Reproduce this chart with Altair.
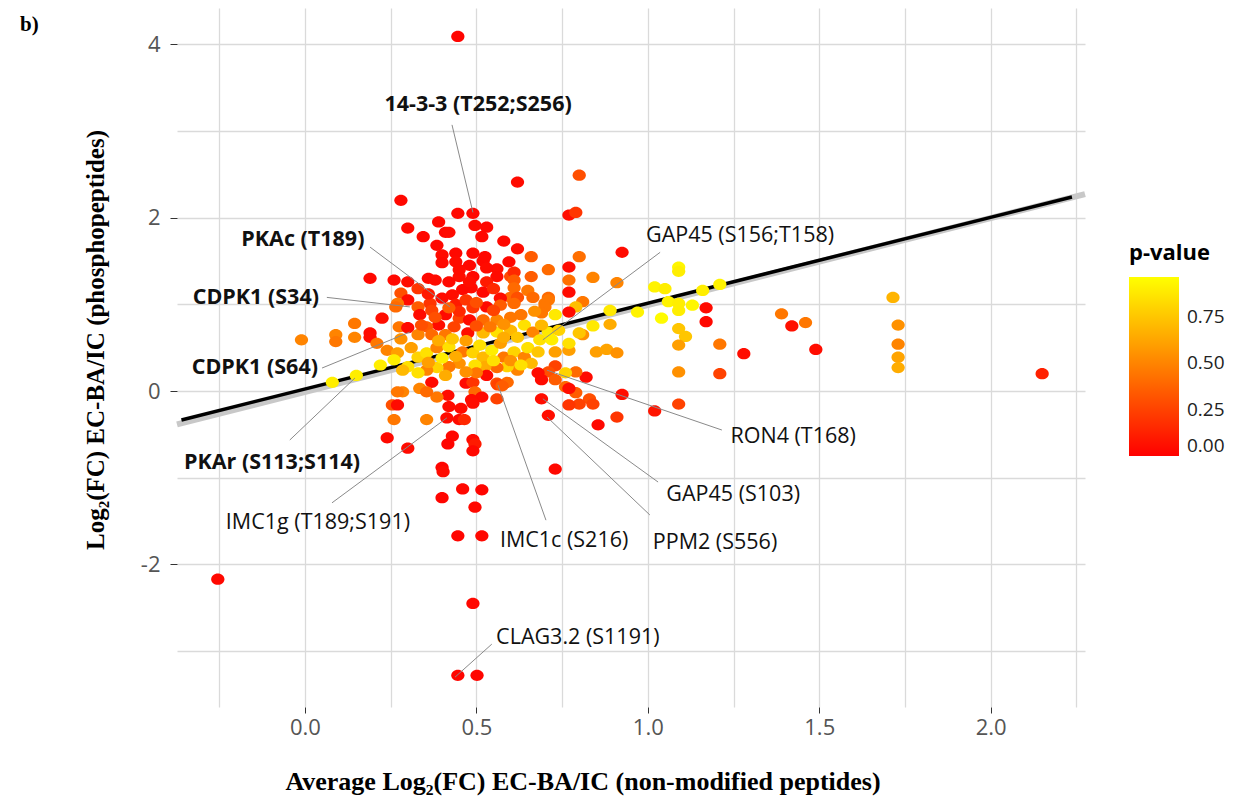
import altair as alt
import pandas as pd

# ---------------- data ----------------
pt_x = [0.446, -0.254, 0.446, 0.502, 0.49, 0.446, 0.516, 0.40, 0.46, 0.516, 0.496, 0.40, 0.403, 0.73,
        0.43, 0.417, 0.49, 0.496, 0.49, 0.24, 0.30, 0.855,
        1.17, 1.17, 1.21, 1.21, 1.28, 1.39, 1.42, 1.46, 1.49, 1.715, 1.73, 1.73, 1.73, 1.73, 2.15, 1.21, 1.16,
        0.925, 0.77, 0.79, 0.80, 0.77, 0.71, 0.66, 0.66, 0.60, 0.62, 0.58, 0.52, 0.56, 0.77, 0.77, 0.84, 0.91,
        0.71, 0.71, 0.81, 0.79, 0.77, 0.89, 0.89, 0.84, 0.81, 0.77, 0.85, 0.88, 0.91, 0.70, 0.65, 0.60, 0.71,
        0.73, 0.97, 1.02, 1.05, 1.09, 1.09, 1.06, 1.09, 1.13, 1.09, 1.04, 1.09, 1.11, 1.09, 1.09, 1.09, 1.02,
        0.925, 0.91, 0.83, 0.84, 0.80, 0.77, 0.79, 0.76, 0.77, 0.82, 0.79, 0.76, 0.73, 0.71, 0.68, 0.73, 0.69,
        0.69, 0.71, 0.56, 0.59, 0.56,
        0.28, 0.446, 0.49, 0.39, 0.30, 0.496, 0.53, 0.345, 0.41, 0.42, 0.516, 0.385, 0.44, 0.40, 0.49, 0.525,
        0.40, 0.44, 0.48, 0.53, 0.595, 0.61, 0.56, 0.49, 0.45, 0.42, 0.36, 0.38, 0.19, 0.26, 0.30, 0.33, 0.28,
        0.61, 0.61, 0.665, 0.62, 0.57, 0.52, 0.485, 0.46, 0.43, 0.40, 0.365, 0.33, 0.30, 0.27, 0.265, 0.225,
        0.19, 0.19, 0.145, 0.145, 0.09, 0.09, -0.01, 0.275, 0.30, 0.335, 0.37, 0.41, 0.45, 0.49, 0.53, 0.57,
        0.61, 0.70, 0.69, 0.60, 0.56, 0.52, 0.48, 0.435, 0.39, 0.355, 0.33, 0.37, 0.41, 0.475, 0.52, 0.56,
        0.60, 0.64, 0.665, 0.685, 0.72, 0.77, 0.80, 0.73, 0.24, 0.27, 0.30, 0.33, 0.355, 0.385, 0.42, 0.46,
        0.49, 0.52, 0.545, 0.58, 0.61, 0.64, 0.66, 0.62, 0.59, 0.56, 0.525, 0.496, 0.45, 0.42, 0.385, 0.355,
        0.33, 0.285, 0.22, 0.15, 0.08, 0.285, 0.335, 0.37, 0.417, 0.385, 0.47, 0.49, 0.496, 0.516, 0.563,
        0.575, 0.53, 0.50, 0.486, 0.455, 0.49, 0.42, 0.355, 0.27, 0.255, 0.27, 0.26, 0.355, 0.414, 0.45, 0.465,
        0.80, 0.62,
        0.44, 0.47, 0.50, 0.55, 0.45, 0.42, 0.38, 0.50, 0.54, 0.58, 0.62, 0.47, 0.43, 0.39, 0.51, 0.57, 0.65,
        0.68, 0.36, 0.40, 0.44, 0.55, 0.60, 0.63, 0.47, 0.41, 0.26, 0.31, 0.53, 0.48, 0.55, 0.45, 0.36, 0.58,
        0.69, 0.74, 0.67, 0.63, 0.34, 0.28, 0.21]
pt_y = [4.09, -2.17, -3.28, -3.28, -2.45, -1.67, -1.67, -1.23, -1.13, -1.14, -1.34, -0.88, -0.93, -0.90,
        -0.52, -0.61, -0.56, -0.61, -0.69, -0.54, -0.66, -0.39,
        0.96, 0.80, 0.54, 0.20, 0.43, 0.89, 0.75, 0.79, 0.48, 1.08, 0.76, 0.54, 0.39, 0.27, 0.20, 1.23, 1.16,
        1.60, 2.03, 2.06, 1.55, 1.43, 1.40, 1.55, 1.32, 1.32, 1.64, 1.73, 1.50, 1.41, 1.28, 1.14, 1.31, 1.25,
        1.08, 1.05, 1.03, 0.97, 0.91, 0.93, 0.77, 0.75, 0.65, 0.47, 0.45, 0.48, 0.44, 1.01, 1.16, 1.08, 0.68,
        0.88, 0.91, 1.20, 1.18, 1.43, 1.38, 1.03, 1.01, 0.99, 0.93, 0.84, 0.72, 0.63, 0.53, 0.22, -0.15, -0.23,
        -0.04, -0.30, -0.09, -0.15, -0.15, -0.16, -0.02, 0.05, 0.03, 0.16, 0.22, 0.21, 0.29, 0.22, 0.21, 0.13,
        0.13, -0.09, -0.28, -0.09, 0.10, 0.09,
        2.20, 2.05, 2.05, 1.95, 1.88, 1.91, 1.89, 1.78, 1.83, 1.83, 1.78, 1.68, 1.59, 1.57, 1.59, 1.55,
        1.48, 1.49, 1.45, 1.42, 1.49, 1.37, 1.32, 1.32, 1.32, 1.26, 1.30, 1.28, 1.30, 1.28, 1.26, 1.18, 1.13,
        1.28, 1.19, 1.08, 1.08, 1.07, 1.14, 1.19, 1.17, 1.11, 1.07, 1.01, 0.97, 1.05, 1.01, 0.97, 0.84,
        0.67, 0.62, 0.78, 0.62, 0.65, 0.57, 0.59, 0.74, 0.73, 0.88, 0.93, 0.88, 0.84, 0.96, 0.97, 0.99,
        1.01, 0.97, 0.90, 0.85, 0.82, 0.82, 0.82, 0.74, 0.76, 0.74, 0.65, 0.65, 0.65, 0.67, 0.67, 0.68,
        0.70, 0.76, 0.68, 0.59, 0.59, 0.55, 0.67, 0.45, 0.47, 0.44, 0.28, 0.39, 0.44, 0.50, 0.51, 0.45,
        0.44, 0.39, 0.47, 0.39, 0.45, 0.39, 0.32, 0.24, 0.28, 0.27, 0.28, 0.30, 0.32, 0.28, 0.27, 0.24,
        0.21, 0.24, 0.30, 0.18, 0.10, -0.01, 0.03, 0.10, -0.05, -0.07, 0.09, 0.10, -0.01, -0.07, 0.07,
        0.06, 0.18, 0.21, -0.10, -0.20, -0.14, -0.18, -0.01, -0.01, -0.16, -0.16, -0.33, -0.33, -0.31, -0.33, -0.33,
        2.49, 2.41,
        1.00, 1.05, 1.02, 0.93, 0.92, 0.96, 0.85, 0.75, 0.74, 0.77, 0.62, 0.58, 0.60, 0.58, 0.53, 0.55, 0.50,
        0.45, 0.33, 0.38, 0.40, 0.35, 0.35, 0.30, 0.22, 0.18, 0.36, 0.50, 1.26, 1.26, 1.18, 1.40, 1.12, 0.62,
        0.76, 0.70, 0.92, 0.88, 0.76, 0.60, 0.55]
pt_p = [0.02, 0.03, 0.02, 0.02, 0.03, 0.02, 0.03, 0.02, 0.03, 0.02, 0.03, 0.02, 0.04, 0.03,
        0.03, 0.02, 0.04, 0.10, 0.03, 0.03, 0.04, 0.03,
        0.04, 0.03, 0.45, 0.25, 0.05, 0.45, 0.06, 0.45, 0.05, 0.68, 0.55, 0.50, 0.62, 0.65, 0.12, 0.92, 0.90,
        0.04, 0.05, 0.20, 0.42, 0.04, 0.40, 0.35, 0.35, 0.28, 0.04, 0.03, 0.03, 0.05, 0.42, 0.04, 0.50, 0.50,
        0.40, 0.45, 0.45, 0.72, 0.04, 0.88, 0.65, 0.88, 0.55, 0.60, 0.60, 0.62, 0.55, 0.45, 0.45, 0.40, 0.88,
        0.88, 0.92, 0.92, 0.90, 0.93, 0.90, 0.92, 0.90, 0.93, 0.90, 0.95, 0.75, 0.75, 0.60, 0.55, 0.25, 0.08,
        0.05, 0.20, 0.30, 0.25, 0.25, 0.20, 0.35, 0.40, 0.05, 0.04, 0.40, 0.80, 0.25, 0.30, 0.04, 0.35, 0.04,
        0.05, 0.05, 0.25, 0.40, 0.30,
        0.03, 0.03, 0.03, 0.03, 0.03, 0.04, 0.03, 0.03, 0.03, 0.04, 0.03, 0.03, 0.03, 0.04, 0.03, 0.03,
        0.03, 0.04, 0.03, 0.04, 0.03, 0.15, 0.04, 0.03, 0.05, 0.03, 0.03, 0.04, 0.03, 0.03, 0.04, 0.20, 0.30,
        0.35, 0.40, 0.40, 0.30, 0.05, 0.03, 0.04, 0.03, 0.05, 0.04, 0.20, 0.35, 0.04, 0.45, 0.40, 0.05,
        0.04, 0.05, 0.45, 0.50, 0.50, 0.45, 0.50, 0.45, 0.04, 0.04, 0.25, 0.04, 0.25, 0.20, 0.04, 0.35,
        0.40, 0.45, 0.45, 0.45, 0.50, 0.40, 0.04, 0.25, 0.04, 0.35, 0.50, 0.40, 0.45, 0.05, 0.70, 0.85,
        0.70, 0.85, 0.50, 0.85, 0.90, 0.85, 0.75, 0.60, 0.50, 0.60, 0.85, 0.80, 0.85, 0.50, 0.85, 0.45,
        0.80, 0.70, 0.90, 0.45, 0.80, 0.50, 0.70, 0.50, 0.80, 0.40, 0.65, 0.85, 0.55, 0.45, 0.80, 0.50,
        0.85, 0.70, 0.90, 0.90, 0.90, 0.50, 0.50, 0.04, 0.04, 0.45, 0.04, 0.20, 0.40, 0.04, 0.25,
        0.35, 0.04, 0.45, 0.04, 0.04, 0.05, 0.04, 0.40, 0.45, 0.30, 0.04, 0.45, 0.50, 0.04, 0.04, 0.15,
        0.30, 0.04,
        0.10, 0.20, 0.30, 0.25, 0.15, 0.35, 0.30, 0.30, 0.45, 0.55, 0.75, 0.60, 0.75, 0.65, 0.85, 0.60, 0.85,
        0.75, 0.60, 0.90, 0.65, 0.85, 0.55, 0.85, 0.55, 0.65, 0.90, 0.60, 0.10, 0.05, 0.15, 0.04, 0.10, 0.65,
        0.70, 0.80, 0.55, 0.45, 0.30, 0.55, 0.45]

# fitted line and its grey shadow
fit_x = [-0.36, 2.237]
fit_y = [-0.334, 2.238]
shadow_x = [-0.373, 2.275]
shadow_y = [-0.385, 2.27]

# annotations
bold_text = ["14-3-3 (T252;S256)", "PKAc (T189)", "CDPK1 (S34)", "CDPK1 (S64)", "PKAr (S113;S114)"]
bold_tx = [0.505, -0.006, -0.143, -0.146, -0.096]
bold_ty = [3.30, 1.74, 1.07, 0.265, -0.83]
reg_text = ["GAP45 (S156;T158)", "RON4 (T168)", "GAP45 (S103)", "PPM2 (S556)", "IMC1c (S216)",
            "IMC1g (T189;S191)", "CLAG3.2 (S1191)"]
reg_tx = [1.269, 1.424, 1.249, 1.196, 0.756, 0.038, 0.796]
reg_ty = [1.79, -0.53, -1.20, -1.75, -1.73, -1.52, -2.85]

lead_x1 = [0.429, 0.19, 0.064, 0.05, -0.044, 1.036, 1.216, 1.03, 1.006, 0.703, 0.079, 0.545]
lead_y1 = [3.07, 1.66, 1.08, 0.265, -0.565, 1.60, -0.45, -1.05, -1.43, -1.49, -1.29, -2.92]
lead_x2 = [0.49, 0.423, 0.306, 0.306, 0.146, 0.694, 0.706, 0.694, 0.706, 0.563, 0.414, 0.438]
lead_y2 = [2.06, 0.97, 0.97, 0.68, 0.15, 0.59, 0.24, -0.09, -0.30, 0.07, -0.31, -3.30]

x_domain = [-0.373, 2.275]
y_domain = [-3.645, 4.418]
x_grid = [-0.25, 0.0, 0.25, 0.5, 0.75, 1.0, 1.25, 1.5, 1.75, 2.0, 2.25]
y_grid = [-3, -2, -1, 0, 1, 2, 3, 4]
p_domain = [0.0, 0.965]
legend_values = [0.0, 0.25, 0.5, 0.75]

x_title = "Average Log₂(FC) EC-BA/IC (non-modified peptides)"
y_title = "Log₂(FC) EC-BA/IC (phosphopeptides)"
panel_tag = "b)"

# ---------------- chart ----------------
W, H = 908, 699
SANS = "Open Sans"
SERIF = "Liberation Serif"

xs = alt.Scale(domain=x_domain, nice=False, zero=False)
ys = alt.Scale(domain=y_domain, nice=False, zero=False)

x_axis = alt.Axis(
    values=x_grid, title=None, grid=True, domain=False,
    labelExpr="round(datum.value*4) % 2 == 0 ? format(datum.value, '.1f') : ''",
    tickColor={"condition": {"test": "round(datum.value*4) % 2 != 0", "value": "transparent"},
               "value": "#333333"},
    tickSize=6, labelPadding=4, labelFont=SANS, labelFontSize=22, labelColor="#555555",
)
y_axis = alt.Axis(
    values=y_grid, title=None, grid=True, domain=False,
    labelExpr="datum.value % 2 == 0 ? '' + datum.value : ''",
    tickColor={"condition": {"test": "datum.value % 2 != 0", "value": "transparent"},
               "value": "#333333"},
    tickSize=7, labelPadding=10, labelFont=SANS, labelFontSize=22, labelColor="#555555",
)

pts = pd.DataFrame({"x": pt_x, "y": pt_y, "p": pt_p})
ellipse = "M-1,0A1,0.85,0,1,1,1,0A1,0.85,0,1,1,-1,0Z"

points = alt.Chart(pts).mark_point(
    shape=ellipse, filled=True, size=175, opacity=1, strokeWidth=0
).encode(
    x=alt.X("x:Q", scale=xs, axis=x_axis),
    y=alt.Y("y:Q", scale=ys, axis=y_axis),
    color=alt.Color(
        "p:Q",
        scale=alt.Scale(domain=p_domain, range=["#FF0000", "#FFFF00"], interpolate="rgb"),
        legend=alt.Legend(
            title="p-value", orient="none", legendX=952, legendY=235,
            titleFont=SANS, titleFontSize=22, titleFontWeight="bold", titleColor="#000000",
            titlePadding=12, gradientLength=179, gradientThickness=50, gradientStrokeWidth=0,
            values=legend_values, format=".2f", labelFont=SANS, labelFontSize=19,
            labelColor="#222222", labelOffset=8,
        ),
    ),
)

shadow = alt.Chart(pd.DataFrame({"x": shadow_x, "y": shadow_y})).mark_line(
    color="#c8c8c8", strokeWidth=6
).encode(x=alt.X("x:Q", scale=xs), y=alt.Y("y:Q", scale=ys))
fit = alt.Chart(pd.DataFrame({"x": fit_x, "y": fit_y})).mark_line(
    color="#000000", strokeWidth=3.5
).encode(x=alt.X("x:Q", scale=xs), y=alt.Y("y:Q", scale=ys))

leaders = alt.Chart(pd.DataFrame({"x": lead_x1, "y": lead_y1, "x2": lead_x2, "y2": lead_y2})).mark_rule(
    color="#8a8a8a", strokeWidth=1
).encode(x=alt.X("x:Q", scale=xs), y=alt.Y("y:Q", scale=ys), x2="x2:Q", y2="y2:Q")

bold_lbl = alt.Chart(pd.DataFrame({"t": bold_text, "x": bold_tx, "y": bold_ty})).mark_text(
    font=SANS, fontSize=21.5, fontWeight="bold", color="#111111", align="center", baseline="middle"
).encode(x=alt.X("x:Q", scale=xs), y=alt.Y("y:Q", scale=ys), text="t:N")

reg_lbl = alt.Chart(pd.DataFrame({"t": reg_text, "x": reg_tx, "y": reg_ty})).mark_text(
    font=SANS, fontSize=21.5, color="#111111", align="center", baseline="middle"
).encode(x=alt.X("x:Q", scale=xs), y=alt.Y("y:Q", scale=ys), text="t:N")

xt = alt.Chart(pd.DataFrame({"t": [x_title]})).mark_text(
    font=SERIF, fontSize=26, fontWeight="bold", color="#000000", align="center", baseline="middle"
).encode(x=alt.value(406), y=alt.value(774), text="t:N")

yt = alt.Chart(pd.DataFrame({"t": [y_title]})).mark_text(
    font=SERIF, fontSize=25, fontWeight="bold", color="#000000", align="center", baseline="middle",
    angle=270
).encode(x=alt.value(-81), y=alt.value(332), text="t:N")

tag = alt.Chart(pd.DataFrame({"t": [panel_tag]})).mark_text(
    font=SERIF, fontSize=21, fontWeight="bold", color="#000000", align="left", baseline="middle"
).encode(x=alt.value(-157), y=alt.value(17), text="t:N")

chart = alt.layer(shadow, fit, points, leaders, bold_lbl, reg_lbl, xt, yt, tag).properties(
    width=W, height=H,
    autosize=alt.AutoSizeParams(type="none"),
    padding={"left": 169, "top": 0, "right": 165, "bottom": 93},
).configure_view(stroke=None).configure_axis(
    gridColor="#dadada", gridWidth=1.3
)

chart.save("out.html", embed_options={"renderer": "svg", "actions": False})
